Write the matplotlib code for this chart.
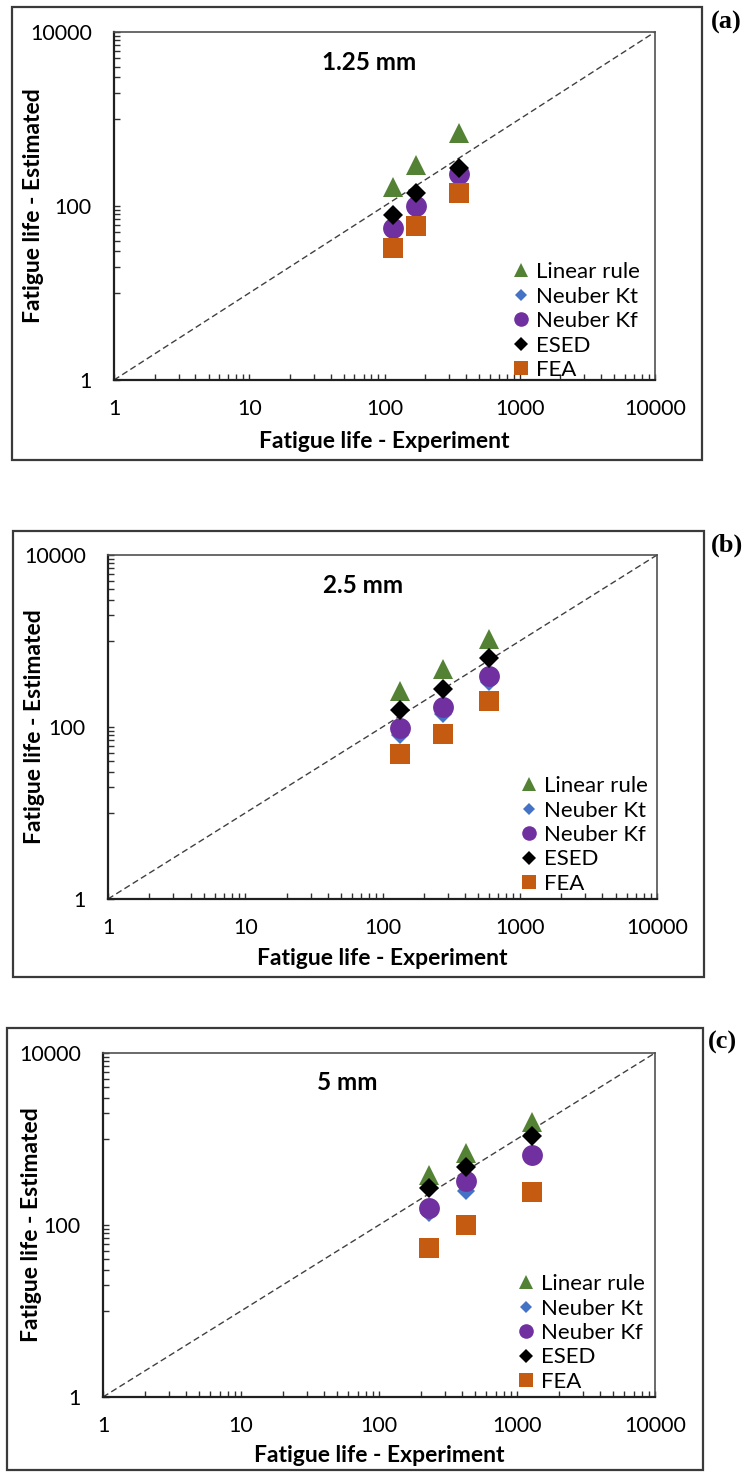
import matplotlib
matplotlib.use("Agg")
import matplotlib.pyplot as plt
from matplotlib.patches import Rectangle
from matplotlib.ticker import FixedLocator, NullFormatter

plt.rcParams['font.family'] = ['Lato', 'DejaVu Sans']

series_names = ['Linear rule', 'Neuber Kt', 'Neuber Kf', 'ESED', 'FEA']
panel_titles = ['1.25 mm', '2.5 mm', '5 mm']
panel_tags = ['(a)', '(b)', '(c)']

# experimental lives (x) per notch size
exp_a = [116, 170, 356]
exp_b = [135, 277, 598]
exp_c = [230, 430, 1279]

# estimated lives (y), order: linear, Kt, Kf, ESED, FEA
linear_a = [167, 297, 689]
kt_a = [50, 97, 218]
kf_a = [56, 101, 234]
esed_a = [79, 140, 272]
fea_a = [33, 59, 140]

linear_b = [265, 471, 1064]
kt_b = [80, 142, 330]
kf_b = [97, 170, 395]
esed_b = [156, 277, 631]
fea_b = [48, 84, 203]

linear_c = [380, 679, 1582]
kt_c = [137, 250, 620]
kf_c = [156, 327, 649]
esed_c = [267, 475, 1079]
fea_c = [54, 100, 239]

xticks = [1, 10, 100, 1000, 10000]
yticks = [1, 100, 10000]

styles = [
    dict(marker='^', color='#548235', ms=14),
    dict(marker='D', color='#4472C4', ms=9),
    dict(marker='o', color='#7030A0', ms=15),
    dict(marker='D', color='#000000', ms=10),
    dict(marker='s', color='#C55A11', ms=14),
]

W, H = 753, 1473
fig = plt.figure(figsize=(W / 100, H / 100), dpi=100)

def fx(px):
    return px / W

def fy(py):
    return 1 - py / H

# pixel boxes: axes (left, top, right, bottom), outer frame, tag pos, title frac, label coords
panels = [
    dict(ax=(114, 32, 655, 380), frame=(12, 7, 702, 460), tag=(711, 22),
         title=(0.471, 0.911), ylab=-0.148, xlab=-0.178, leg=(0.735, 0.0)),
    dict(ax=(108, 555, 657, 899), frame=(13, 531, 704, 977), tag=(711, 545),
         title=(0.464, 0.91), ylab=-0.133, xlab=-0.172, leg=(0.75, 0.015)),
    dict(ax=(103, 1053, 655, 1397), frame=(7, 1028, 703, 1470), tag=(708, 1042),
         title=(0.442, 0.913), ylab=-0.13, xlab=-0.17, leg=(0.75, 0.015)),
]

data = [
    (exp_a, [linear_a, kt_a, kf_a, esed_a, fea_a]),
    (exp_b, [linear_b, kt_b, kf_b, esed_b, fea_b]),
    (exp_c, [linear_c, kt_c, kf_c, esed_c, fea_c]),
]

for i, p in enumerate(panels):
    l, t, r, b = p['ax']
    ax = fig.add_axes([fx(l), fy(b), fx(r) - fx(l), fy(t) - fy(b)])

    # panel frame
    fl, ft, fr, fb = p['frame']
    fig.patches.append(Rectangle((fx(fl), fy(fb)), fx(fr) - fx(fl), fy(ft) - fy(fb),
                                 transform=fig.transFigure, fill=False,
                                 edgecolor='#3a3a3a', lw=1.6))
    fig.text(fx(p['tag'][0]), fy(p['tag'][1]), panel_tags[i], family='Liberation Serif',
             fontweight='bold', fontsize=19, ha='left', va='center')

    ax.plot([1, 10000], [1, 10000], color='#404040', lw=1.0, dashes=(4.5, 2.5), zorder=1)

    xs, ys_list = data[i]
    for name, ys, st in zip(series_names, ys_list, styles):
        ax.plot(xs, ys, linestyle='none', marker=st['marker'], color=st['color'],
                markersize=st['ms'], markeredgewidth=0, label=name, zorder=3)

    ax.set_xscale('log')
    ax.set_yscale('log')
    ax.set_xlim(1, 10000)
    ax.set_ylim(1, 10000)

    ax.xaxis.set_major_locator(FixedLocator(xticks))
    ax.set_xticklabels([str(v) for v in xticks])
    ax.xaxis.set_minor_locator(FixedLocator([k * 10 ** d for d in range(4) for k in range(2, 10)]))
    ax.xaxis.set_minor_formatter(NullFormatter())
    ax.yaxis.set_major_locator(FixedLocator(yticks))
    ax.set_yticklabels([str(v) for v in yticks])
    ax.yaxis.set_minor_locator(FixedLocator([k * 10 for k in range(1, 10)] + [k * 1000 for k in range(1, 10)]))
    ax.yaxis.set_minor_formatter(NullFormatter())

    ax.tick_params(which='both', direction='in', color='#303030', width=1.0, labelsize=15.5)
    ax.tick_params(which='major', length=4.5)
    ax.tick_params(which='minor', length=4)
    ax.tick_params(axis='x', which='major', pad=14)
    ax.tick_params(axis='y', which='major', pad=16)

    for side in ['top', 'right']:
        ax.spines[side].set_color('#505050')
        ax.spines[side].set_linewidth(1.2)
    for side in ['left', 'bottom']:
        ax.spines[side].set_color('#202020')
        ax.spines[side].set_linewidth(1.6)

    ax.set_xlabel('Fatigue life - Experiment', fontsize=16.5, fontweight='bold', va='center')
    ax.set_ylabel('Fatigue life - Estimated', fontsize=16.5, fontweight='bold', va='center')
    ax.xaxis.set_label_coords(0.5, p['xlab'])
    ax.yaxis.set_label_coords(p['ylab'], 0.5)

    ax.text(p['title'][0], p['title'][1], panel_titles[i], transform=ax.transAxes,
            fontsize=17.5, fontweight='bold', ha='center', va='center')

    ax.legend(loc='lower left', bbox_to_anchor=p['leg'], frameon=False, fontsize=16,
              markerscale=0.7, handlelength=0.8, handletextpad=0.3,
              labelspacing=0.2, borderaxespad=0, borderpad=0)

fig.savefig('out.png', dpi=100)
